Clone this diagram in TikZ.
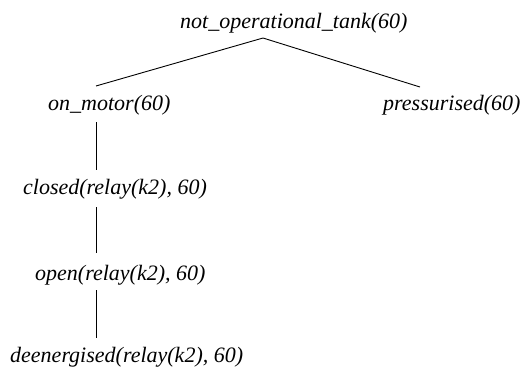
\documentclass[tikz,border=0pt]{standalone}
\usepackage{fontspec}
\setmainfont{Liberation Serif}
\begin{document}
\begin{tikzpicture}[x=1pt,y=-1pt,
  lbl/.style={font=\fontsize{22}{26}\selectfont\itshape, inner sep=0pt, anchor=base west},
  edge/.style={line width=0.9pt}]
\useasboundingbox (0,0) rectangle (521,367);
\node[lbl] (root) at (180,28) {not\_operational\_tank(60)};
\node[lbl] (mot) at (48,110) {on\_motor(60)};
\node[lbl] (pres) at (383,110) {pressurised(60)};
\node[lbl] (clo) at (23,194) {closed(relay(k2), 60)};
\node[lbl] (ope) at (35,280) {open(relay(k2), 60)};
\node[lbl] (dee) at (10,362) {deenergised(relay(k2), 60)};
\coordinate (r0) at (263,38);
\coordinate (l1) at (96,86);
\coordinate (r1) at (420,87);
\coordinate (m1) at (96,122);
\coordinate (c0) at (96,170);
\coordinate (c1) at (96,207);
\coordinate (o0) at (96,253);
\coordinate (o1) at (96,290);
\coordinate (d0) at (96,338);
\draw[edge] (l1) -- (r0) -- (r1);
\draw[edge] (m1) -- (c0);
\draw[edge] (c1) -- (o0);
\draw[edge] (o1) -- (d0);
\end{tikzpicture}
\end{document}
